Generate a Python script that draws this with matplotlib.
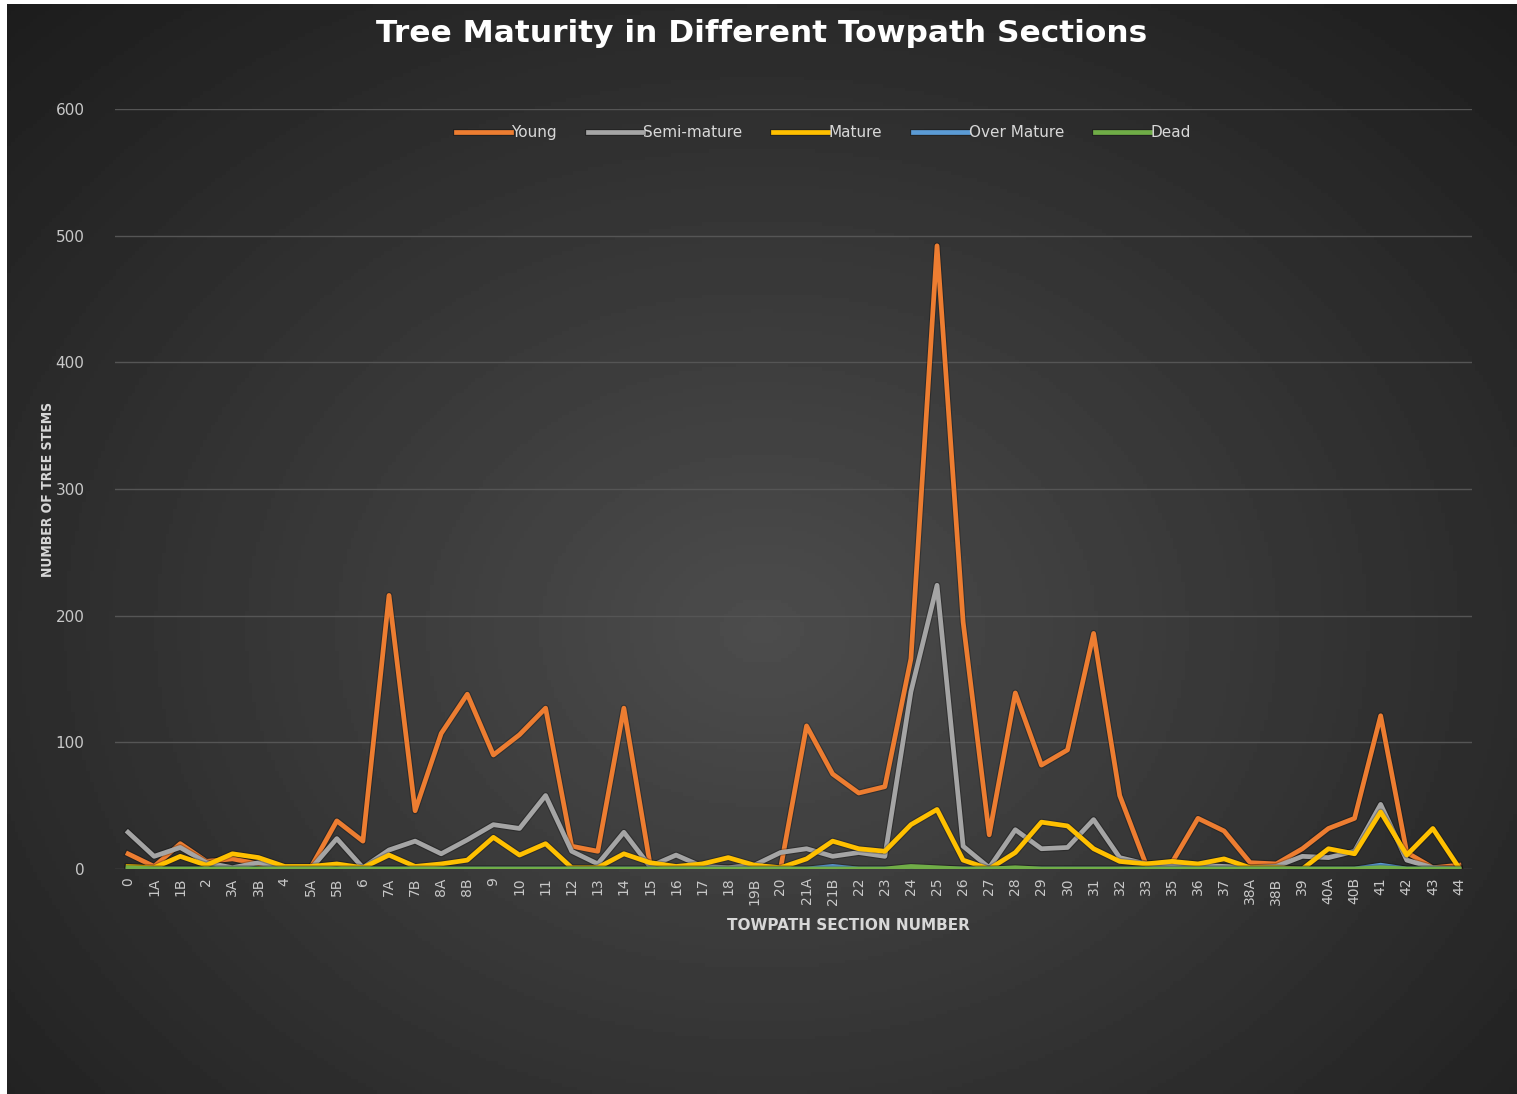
import numpy as np
import matplotlib
matplotlib.use("Agg")
import matplotlib.pyplot as plt
import matplotlib.patheffects as pe

sections = ["0", "1A", "1B", "2", "3A", "3B", "4", "5A", "5B", "6", "7A", "7B", "8A", "8B",
            "9", "10", "11", "12", "13", "14", "15", "16", "17", "18", "19B", "20", "21A",
            "21B", "22", "23", "24", "25", "26", "27", "28", "29", "30", "31", "32", "33",
            "35", "36", "37", "38A", "38B", "39", "40A", "40B", "41", "42", "43", "44"]

young = [12, 2, 20, 6, 8, 4, 1, 1, 38, 22, 216, 46, 107, 138, 90, 106, 127, 18, 14, 127,
         4, 0, 0, 1, 0, 0, 113, 75, 60, 65, 166, 492, 195, 27, 139, 82, 94, 186, 58, 4,
         5, 40, 30, 5, 4, 16, 32, 40, 121, 13, 1, 3]
semi_mature = [29, 10, 17, 5, 1, 5, 1, 0, 24, 1, 15, 22, 12, 23, 35, 32, 58, 14, 4, 29,
               2, 11, 2, 1, 3, 13, 16, 10, 13, 10, 140, 224, 18, 1, 31, 16, 17, 39, 9, 4,
               2, 3, 2, 1, 2, 10, 9, 14, 51, 7, 1, 0]
mature = [2, 1, 10, 3, 12, 9, 2, 2, 4, 1, 11, 2, 4, 7, 25, 11, 20, 1, 1, 12,
          5, 2, 4, 9, 3, 1, 8, 22, 16, 14, 35, 47, 7, 0, 13, 37, 34, 16, 6, 4,
          6, 4, 8, 1, 1, 0, 16, 12, 45, 11, 32, 1]
over_mature = [0, 0, 0, 0, 0, 0, 0, 0, 0, 0, 0, 0, 0, 0, 0, 0, 0, 0, 0, 0,
               0, 0, 0, 0, 0, 0, 0, 2, 0, 0, 0, 0, 0, 0, 0, 0, 0, 0, 0, 0,
               0, 0, 0, 0, 0, 0, 0, 0, 3, 0, 0, 0]
dead = [1, 0, 0, 0, 0, 0, 0, 0, 0, 0, 0, 0, 0, 0, 0, 0, 0, 0, 0, 0,
        0, 0, 0, 0, 0, 0, 0, 0, 0, 0, 2, 1, 0, 0, 1, 0, 0, 0, 0, 0,
        0, 0, 0, 0, 0, 0, 0, 0, 1, 0, 0, 0]

series = [("Young", young, "#ED7D31"),
          ("Semi-mature", semi_mature, "#A5A5A5"),
          ("Mature", mature, "#FFC000"),
          ("Over Mature", over_mature, "#5B9BD5"),
          ("Dead", dead, "#70AD47")]

W, H = 1517, 1094
fig = plt.figure(figsize=(W / 100, H / 100), dpi=100, facecolor="white")

# dark radial background (white strip on the left/top like the scan)
bg = fig.add_axes([7 / W, 0, 1 - 7 / W, 1 - 4 / H])
yy, xx = np.mgrid[1:-1:300j, -1:1:400j]
r = np.sqrt(xx ** 2 + ((yy + 0.15) / 1.1) ** 2)
shade = np.clip(0.30 - 0.13 * r, 0.1, 0.31)
bg.imshow(shade, cmap="gray", vmin=0, vmax=1, aspect="auto", extent=[0, 1, 0, 1])
bg.set_axis_off()

ax = fig.add_axes([115 / W, 1 - 869 / H, 1357 / W, 760 / H])
ax.patch.set_alpha(0)
x = np.arange(len(sections))
shadow = [pe.Stroke(linewidth=5, foreground=(0, 0, 0, 0.25)), pe.Normal()]
for name, vals, col in series:
    ax.plot(x, vals, color=col, lw=3.4, label=name, path_effects=shadow)

ax.set_xlim(-0.5, len(sections) - 0.5)
ax.set_ylim(0, 600)
ax.set_yticks(range(0, 601, 100))
ax.set_xticks(x)
ax.set_xticklabels(sections, rotation=90)
ax.tick_params(axis="x", colors="#c8c8c8", labelsize=10, length=0, pad=6)
ax.tick_params(axis="y", colors="#c8c8c8", labelsize=11, length=0, pad=22)
ax.grid(axis="y", color="#555555", lw=1)
ax.set_axisbelow(True)
for s in ax.spines.values():
    s.set_visible(False)

ax.set_xlabel("TOWPATH SECTION NUMBER", color="#d8d8d8", fontsize=11,
              fontweight="bold", labelpad=14)
ax.xaxis.set_label_coords((848 - 115) / 1357, -0.065)
ax.set_ylabel("NUMBER OF TREE STEMS", color="#d8d8d8", fontsize=10,
              fontweight="bold", labelpad=0, fontstretch="condensed")

leg = ax.legend(loc="upper center", bbox_to_anchor=(0.522, 0.997), ncol=5, frameon=False,
                handlelength=3.6, handletextpad=0.05, columnspacing=2.0, fontsize=11)
for t in leg.get_texts():
    t.set_color("#d8d8d8")

fig.text(0.502, 1 - 34 / H, "Tree Maturity in Different Towpath Sections", color="white",
         fontsize=22.5, fontweight="bold", ha="center", va="center")

fig.savefig("out.png", dpi=100, facecolor="white")
